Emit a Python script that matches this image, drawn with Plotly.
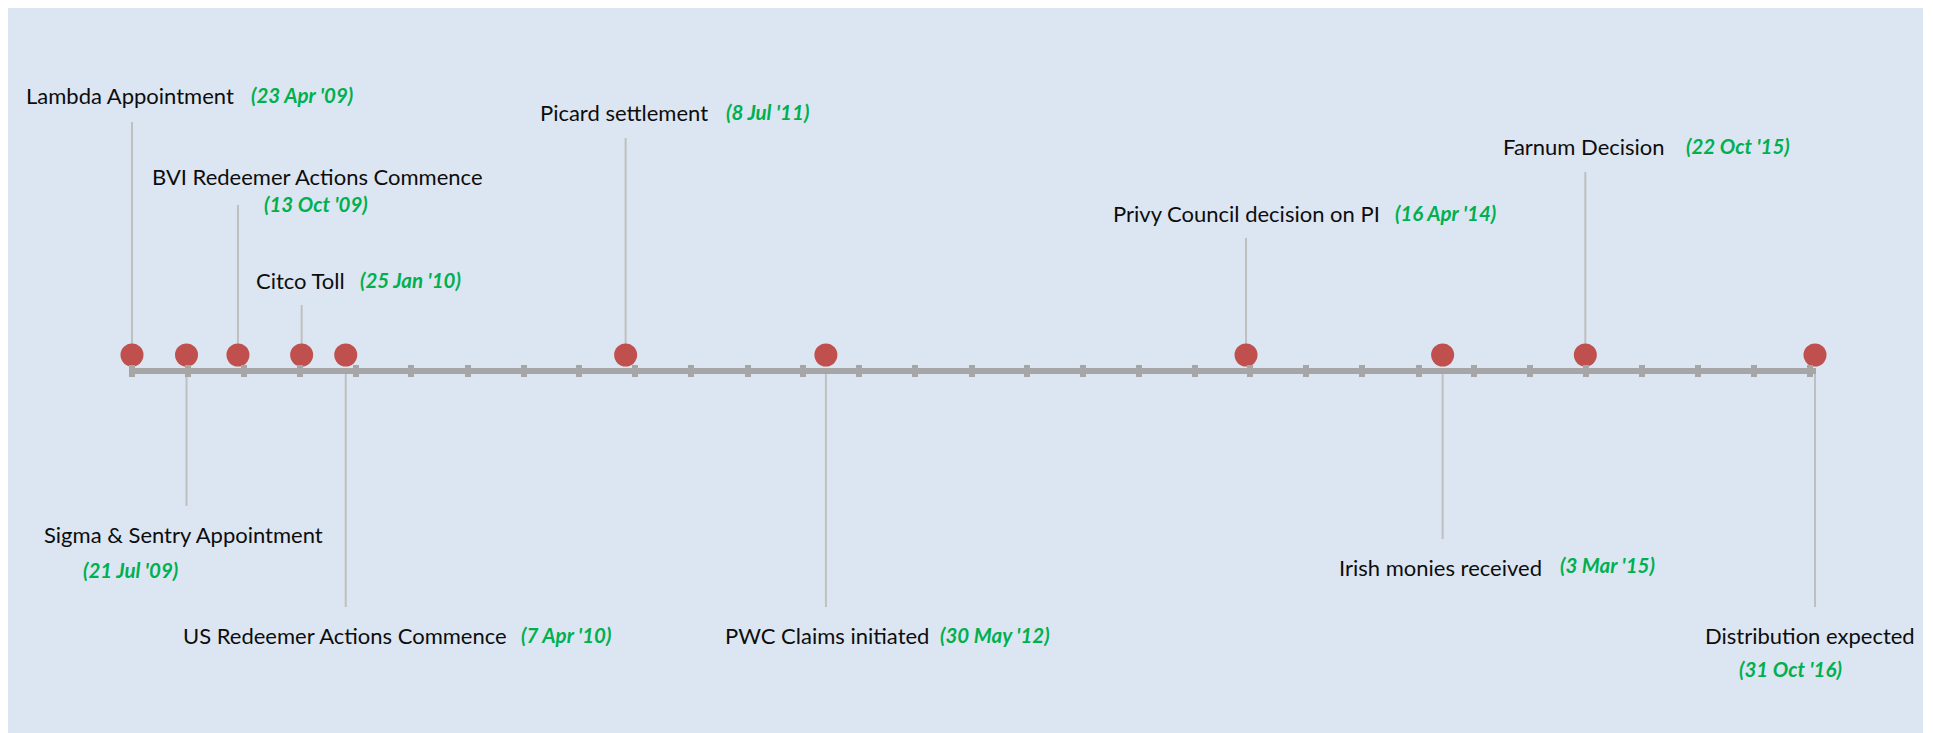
import pandas as pd
import plotly.graph_objects as go

# Events du timeline
events = [
    "Lambda Appointment",
    "Sigma & Sentry Appointment",
    "BVI Redeemer Actions Commence",
    "Citco Toll",
    "US Redeemer Actions Commence",
    "Picard settlement",
    "PWC Claims initiated",
    "Privy Council decision on PI",
    "Irish monies received",
    "Farnum Decision",
    "Distribution expected",
]
event_dates = [
    "2009-04-23", "2009-07-21", "2009-10-13", "2010-01-25", "2010-04-07",
    "2011-07-08", "2012-05-30", "2014-04-16", "2015-03-03", "2015-10-22",
    "2016-10-31",
]
date_labels = [
    "(23 Apr '09)", "(21 Jul '09)", "(13 Oct '09)", "(25 Jan '10)", "(7 Apr '10)",
    "(8 Jul '11)", "(30 May '12)", "(16 Apr '14)", "(3 Mar '15)", "(22 Oct '15)",
    "(31 Oct '16)",
]

# placement des etiquettes en pixels de page (gauche nom, y nom, gauche date, y date, bout du trait)
label_pos = [
    (27, 95, 252, 95, 122),
    (45, 534, 84, 570, 506),
    (153, 176, 265, 204, 205),
    (257, 280, 361, 280, 305),
    (184, 635, 522, 635, 607),
    (541, 112, 727, 112, 138),
    (726, 635, 941, 635, 607),
    (1114, 213, 1396, 213, 238),
    (1340, 567, 1561, 565, 539),
    (1504, 146, 1687, 146, 172),
    (1706, 635, 1740, 669, 607),
]
PAD_X = -3   # padding interne des annotations

# la page html ajoute 8 px de marge (body) en haut et a gauche
OFF = 8
PAGE_W, PAGE_H = 1933, 733
PLOT_L, PLOT_R, PLOT_T, PLOT_B = 8, 1923, 8, 733   # panneau bleu, coords page
W, H = PAGE_W - OFF, PAGE_H - OFF
PW, PH = PLOT_R - PLOT_L, PLOT_B - PLOT_T
MARK_Y = 355      # centre des points (px)
AXIS_Y = 372      # ligne de temps (px)
FIRST_PX, LAST_PX = 132, 1815

dates = pd.to_datetime(event_dates)
span_days = (dates[-1] - dates[0]).days
ppd = (LAST_PX - FIRST_PX) / span_days


def px_to_date(px):
    return (dates[0] + pd.Timedelta(days=(px - FIRST_PX) / ppd)).strftime("%Y-%m-%d %H:%M:%S")


def py(ypx):
    return MARK_Y - ypx


fig = go.Figure()

for ax in ["x2", "x3"]:
    fig.add_trace(go.Scatter(
        x=[event_dates[0], event_dates[-1]], y=[py(AXIS_Y)] * 2, xaxis=ax,
        mode="lines", line=dict(width=0), hoverinfo="skip", showlegend=False,
    ))

fig.add_trace(go.Scatter(
    x=event_dates, y=[0] * len(event_dates), mode="markers",
    marker=dict(size=23, color="#c0504d"), cliponaxis=False,
    hovertext=events, hoverinfo="text", showlegend=False,
))

# fond bleu
shapes = [dict(type="rect", xref="paper", yref="paper", x0=0, x1=1, y0=0, y1=1,
               fillcolor="#dce6f2", line=dict(width=0), layer="below")]
annotations = []
for i, (name, d, dl) in enumerate(zip(events, event_dates, date_labels)):
    nx, ny, dx, dy, end_y = label_pos[i]
    ex = FIRST_PX + (dates[i] - dates[0]).days * ppd
    start = 0 if end_y < MARK_Y else py(AXIS_Y)
    shapes.append(dict(type="line", xref="x", yref="y", x0=d, x1=d, y0=start, y1=py(end_y),
                       line=dict(color="#bfbfbf", width=2), layer="below"))
    annotations.append(dict(x=d, y=py(ny), xref="x", yref="y", text=name, showarrow=False,
                            xanchor="left", yanchor="middle", xshift=nx - ex + PAD_X,
                            font=dict(family="Lato", size=22, color="#0d0d0d")))
    annotations.append(dict(x=d, y=py(dy), xref="x", yref="y", text="<b><i>" + dl + "</i></b>",
                            showarrow=False, xanchor="left", yanchor="middle", xshift=dx - ex + PAD_X,
                            font=dict(family="Lato", size=20.5, color="#00b050")))

axis_style = dict(
    range=[px_to_date(129), px_to_date(1816)],
    anchor="free", position=1 - (AXIS_Y - 1 - PLOT_T) / PH,
    showline=True, linecolor="#a6a6a6", linewidth=6,
    tick0="2009-04-23", dtick="M3", ticklen=3, tickwidth=6,
    tickcolor="#a6a6a6", showticklabels=False, showgrid=False, zeroline=False,
)

fig.update_layout(
    width=W, height=H,
    margin=dict(l=PLOT_L - OFF, r=PAGE_W - PLOT_R, t=PLOT_T - OFF, b=0, pad=0),
    paper_bgcolor="white", plot_bgcolor="rgba(0,0,0,0)",
    xaxis=dict(range=[px_to_date(PLOT_L), px_to_date(PLOT_R)], visible=False, showgrid=False),
    xaxis2=dict(axis_style, ticks="outside",
                domain=[(129 - PLOT_L) / PW, (1816 - PLOT_L) / PW]),
    xaxis3=dict(axis_style, ticks="inside", overlaying="x2"),
    yaxis=dict(range=[py(PLOT_B), py(PLOT_T)], visible=False, showgrid=False, zeroline=False),
    shapes=shapes, annotations=annotations,
)

fig.write_html("out.html")
